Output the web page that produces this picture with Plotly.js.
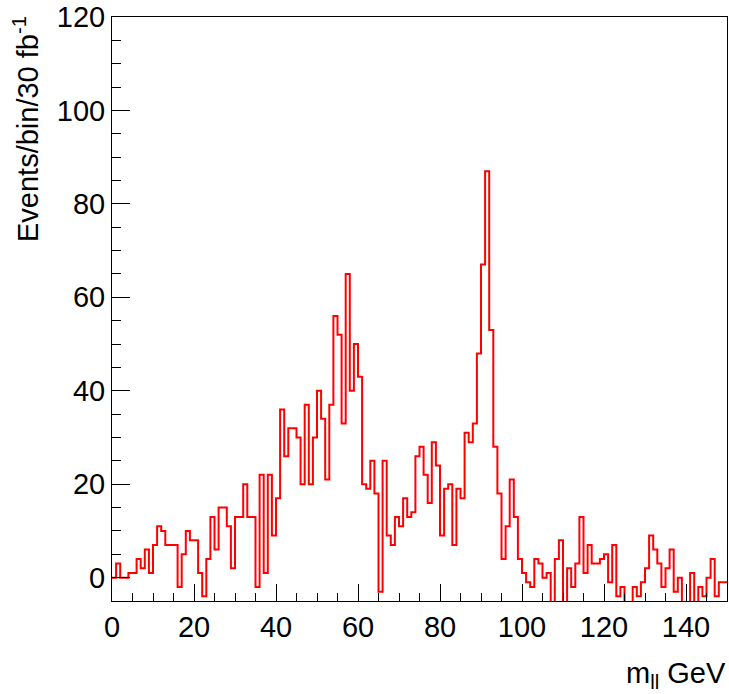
<!DOCTYPE html>
<html>
<head>
<meta charset="utf-8">
<script src="https://cdn.plot.ly/plotly-3.0.1.min.js"></script>
<style>html,body{margin:0;padding:0;background:#fff;}#plot{width:729px;height:694px;}</style>
</head>
<body>
<div id="plot"></div>
<script>
// Histogram: 150 bins of 1 GeV from 0 to 150
var binLow = 0;
var binWidth = 1;
var counts = [
  0, 3, 0, 0, 1, 1, 4, 2, 6, 1,
  7, 11, 10, 7, 7, 7, -2, 5, 10, 8,
  8, 1, -4, 4, 13, 6, 15, 15, 11, 2,
  13, 13, 20, 13, 13, -2, 22, 1, 22, 9,
  17, 36, 26, 32, 32, 30, 20, 37, 20, 30,
  40, 34, 21, 37, 56, 52, 33, 65, 40, 50,
  43, 20, 19, 25, 18, -3, 25, 9, 7, 13,
  11, 17, 13, 14, 26, 28, 22, 16, 29, 24,
  9, 19, 20, 7, 19, 17, 31, 29, 33, 48,
  67, 87, 53, 28, 18, 4, 11, 21, 13, 4,
  1, -1, -2, 4, 3, 0, 1, -7, 4, 8,
  -7, 2, -2, 3, 13, 1, 7, 3, 3, 4,
  5, -1, 7, -4, -2, -7, -7, -2, -4, -1,
  2, 9, 6, 3, -2, 2, 6, -3, 0, -7,
  -7, 1, -7, -2, -4, 0, 4, -4, -1, -1
];
var xTickVals = [0, 20, 40, 60, 80, 100, 120, 140];
var xTickText = ["0", "20", "40", "60", "80", "100", "120", "140"];
var yTickVals = [0, 20, 40, 60, 80, 100, 120];
var yTickText = ["0", "20", "40", "60", "80", "100", "120"];
var xTitle = "m<sub>ll</sub> GeV";
var yTitle = "Events/bin/30 fb<sup>-1</sup>";

// step outline: left edges + final right edge
var edges = counts.map(function (_, i) { return binLow + i * binWidth; });
edges.push(binLow + counts.length * binWidth);
var stepY = counts.slice();
stepY.push(counts[counts.length - 1]);

var font = "Liberation Sans, Arial, Helvetica, sans-serif";
var fs = 29;

var trace = {
  type: "scatter",
  mode: "lines",
  x: edges,
  y: stepY,
  line: {shape: "hv", color: "#ff0000", width: 2},
  hoverinfo: "skip"
};

var layout = {
  width: 729,
  height: 694,
  margin: {l: 112, r: 2, t: 17, b: 93},
  paper_bgcolor: "#ffffff",
  plot_bgcolor: "#ffffff",
  showlegend: false,
  font: {family: font, size: fs, color: "#000"},
  xaxis: {
    range: [0, 150],
    showgrid: false,
    zeroline: false,
    showline: true,
    linecolor: "#000",
    linewidth: 1,
    mirror: true,
    ticks: "inside",
    ticklen: 17,
    tickwidth: 1,
    tickcolor: "#000",
    tickvals: xTickVals,
    ticktext: xTickText,
    tickfont: {family: font, size: fs, color: "#000"},
    minor: {ticks: "inside", ticklen: 8, dtick: 5, tickcolor: "#000", tickwidth: 1, showgrid: false}
  },
  yaxis: {
    range: [-5, 120],
    showgrid: false,
    zeroline: false,
    showline: true,
    linecolor: "#000",
    linewidth: 1,
    mirror: true,
    ticks: "inside",
    ticklen: 18,
    tickwidth: 1,
    tickcolor: "#000",
    tickvals: yTickVals,
    ticktext: yTickText,
    tickfont: {family: font, size: fs, color: "#000"},
    minor: {ticks: "inside", ticklen: 9, dtick: 5, tickcolor: "#000", tickwidth: 1, showgrid: false}
  },
  annotations: [
    {
      text: yTitle,
      xref: "paper", yref: "paper",
      x: -0.14, y: 1.005,
      xanchor: "center", yanchor: "top",
      textangle: -90,
      showarrow: false,
      font: {family: font, size: fs, color: "#000"}
    },
    {
      text: xTitle,
      xref: "paper", yref: "paper",
      x: 1.002, y: -0.093,
      xanchor: "right", yanchor: "top",
      showarrow: false,
      font: {family: font, size: fs, color: "#000"}
    }
  ]
};

Plotly.newPlot("plot", [trace], layout, {staticPlot: true, displayModeBar: false});
</script>
</body>
</html>
